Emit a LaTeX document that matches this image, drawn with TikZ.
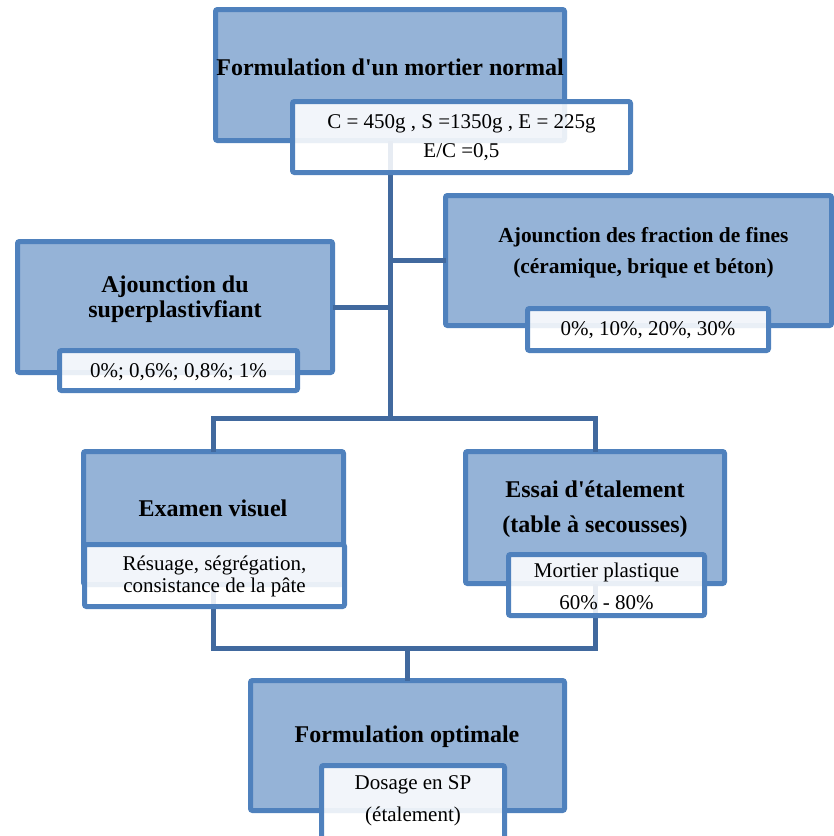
\documentclass[tikz,border=0pt]{standalone}
\usepackage{fontspec}
\setmainfont{Liberation Serif}[Ligatures=TeXOff]
\definecolor{boxfill}{HTML}{95B3D7}
\definecolor{boxline}{HTML}{4F81BD}
\definecolor{conn}{HTML}{41699E}
\begin{document}
\begin{tikzpicture}[x=0.5pt,y=-0.5pt,
 bluebox/.style={draw=boxline, fill=boxfill, line width=2.5pt, rounded corners=1pt, inner sep=0pt, outer sep=0pt},
 whitebox/.style={draw=boxline, fill=white, fill opacity=0.88, draw opacity=1, line width=2.5pt, rounded corners=1pt, inner sep=0pt, outer sep=0pt},
 link/.style={draw=conn, line width=2.5pt},
 title/.style={font=\bfseries\fontsize{12}{12.5}\selectfont, align=center, inner sep=0pt},
 body/.style={font=\fontsize{10.5}{14.5}\selectfont, align=center, inner sep=0pt}]
\useasboundingbox (0,0) rectangle (834,836);
\clip (0,0) rectangle (834,836);
% blue boxes
\node[bluebox, minimum width=174.5pt, minimum height=65.5pt] (B1) at (390,75) {};
\node[bluebox, minimum width=157.5pt, minimum height=65.5pt] (B2) at (175,307) {};
\node[bluebox, minimum width=193pt, minimum height=65pt] (B3) at (638.5,260.5) {};
\node[bluebox, minimum width=130pt, minimum height=66.5pt] (B4) at (213.5,518) {};
\node[bluebox, minimum width=129.5pt, minimum height=66pt] (B5) at (595,517.5) {};
\node[bluebox, minimum width=157pt, minimum height=65pt] (B6) at (407.5,745.5) {};
% connectors
\coordinate (j1) at (390,418);
\coordinate (j2) at (407.5,648);
\draw[link] (B1.south) -- (j1);
\draw[link] (B2.east) -- (B2.east -| j1);
\draw[link] (B3.west) -- (B3.west -| j1);
\draw[link] (B4.north) |- (j1) -| (B5.north);
\draw[link] (B4.south) |- (j2) -| (B5.south);
\draw[link] (j2) -- (B6.north);
% white boxes
\node[whitebox, minimum width=169pt, minimum height=35.5pt] (W1) at (461.5,137) {};
\node[whitebox, minimum width=119pt, minimum height=20pt] (W2) at (178.5,370.5) {};
\node[whitebox, minimum width=120.5pt, minimum height=21pt] (W3) at (648,329.5) {};
\node[whitebox, minimum width=130pt, minimum height=31pt] (W4) at (214.5,575.5) {};
\node[whitebox, minimum width=98pt, minimum height=30.5pt] (W5) at (606.5,585) {};
\node[whitebox, minimum width=91.5pt, minimum height=37pt] (W6) at (413,802.5) {};
% texts
\node[title] (T1) at (390,67) {Formulation d'un mortier normal};
\node[body] (X1) at (461.5,137.5) {C = 450g , S =1350g , E = 225g\\E/C =0,5};
\node[title] (T2) at (175,299.5) {Ajounction du\\superplastivfiant};
\node[body] (X2) at (178.5,372) {0\%; 0,6\%; 0,8\%; 1\%};
\node[title, font=\bfseries\fontsize{10.7}{15.5}\selectfont] (T3) at (643.5,252.5) {Ajounction des fraction de fines\\(céramique, brique et béton)};
\node[body] (X3) at (648,330) {0\%, 10\%, 20\%, 30\%};
\node[title] (T4) at (213,508) {Examen visuel};
\node[body, font=\fontsize{10.5}{11}\selectfont] (X4) at (214.5,576) {Résuage, ségrégation,\\consistance de la pâte};
\node[title, font=\bfseries\fontsize{12}{17.5}\selectfont] (T5) at (595,509.5) {Essai d'étalement\\(table à secousses)};
\node[body, font=\fontsize{10.5}{16}\selectfont] (X5) at (606.5,586) {Mortier plastique\\60\% - 80\%};
\node[title] (T6) at (407,737) {Formulation optimale};
\node[body, font=\fontsize{10.5}{16}\selectfont] (X6) at (413,801) {Dosage en SP\\(étalement)};
\end{tikzpicture}
\end{document}
